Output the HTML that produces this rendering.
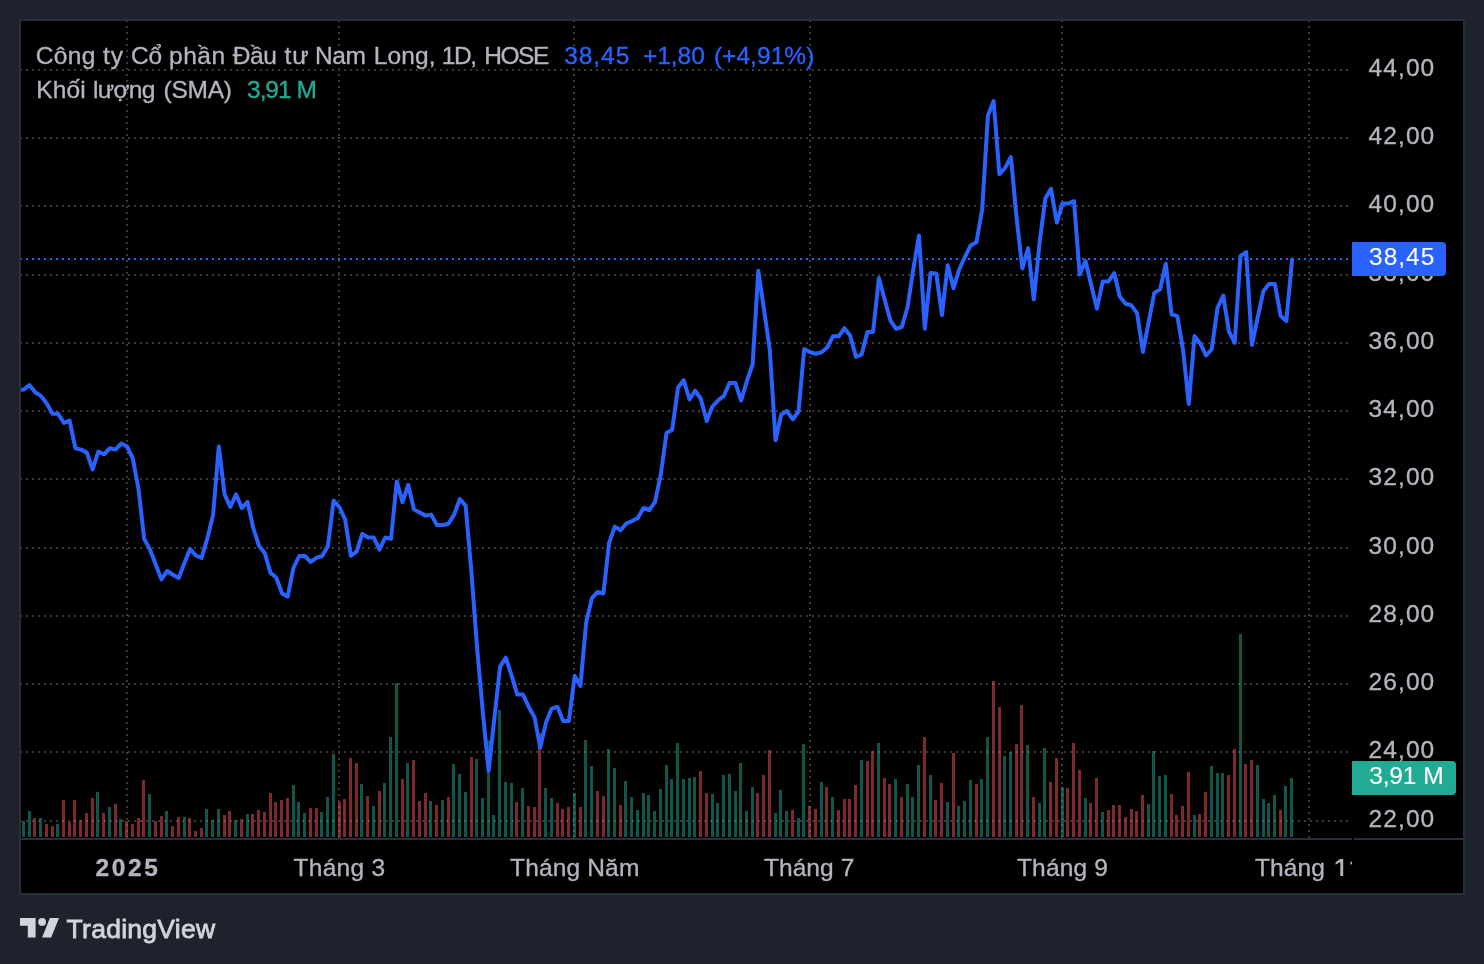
<!DOCTYPE html>
<html><head><meta charset="utf-8"><title>NLG chart</title>
<style>
html,body{margin:0;padding:0;background:#1e222d;}
body{width:1484px;height:964px;overflow:hidden;position:relative;font-family:"Liberation Sans",sans-serif;}
svg{position:absolute;left:0;top:0;display:block;will-change:transform;}
text{font-family:"Liberation Sans",sans-serif;}
</style></head><body>
<svg width="1484" height="964" viewBox="0 0 1484 964">
<rect x="0" y="0" width="1484" height="964" fill="#1e222d"/>
<rect x="20" y="20" width="1444" height="874" fill="#000" stroke="#2a2e39" stroke-width="2"/>
<defs><clipPath id="pane"><rect x="21" y="21" width="1331" height="817"/></clipPath>
<clipPath id="taxis"><rect x="21" y="840" width="1331" height="53"/></clipPath></defs>

<g  shape-rendering="crispEdges" stroke="#3a3a3a" stroke-width="2" stroke-dasharray="2 4" clip-path="url(#pane)">
<line x1="20" y1="70" x2="1352" y2="70"/>
<line x1="20" y1="138" x2="1352" y2="138"/>
<line x1="20" y1="206" x2="1352" y2="206"/>
<line x1="20" y1="275" x2="1352" y2="275"/>
<line x1="20" y1="343" x2="1352" y2="343"/>
<line x1="20" y1="411" x2="1352" y2="411"/>
<line x1="20" y1="479" x2="1352" y2="479"/>
<line x1="20" y1="548" x2="1352" y2="548"/>
<line x1="20" y1="616" x2="1352" y2="616"/>
<line x1="20" y1="684" x2="1352" y2="684"/>
<line x1="20" y1="752" x2="1352" y2="752"/>
<line x1="20" y1="821" x2="1352" y2="821"/>
<line x1="127" y1="20" x2="127" y2="838"/>
<line x1="339" y1="20" x2="339" y2="838"/>
<line x1="574" y1="20" x2="574" y2="838"/>
<line x1="810" y1="20" x2="810" y2="838"/>
<line x1="1062" y1="20" x2="1062" y2="838"/>
<line x1="1309" y1="20" x2="1309" y2="838"/>
</g>
<g shape-rendering="crispEdges">
<rect x="22" y="821" width="3" height="16" fill="rgba(34,171,148,0.5)"/>
<rect x="28" y="811" width="3" height="26" fill="rgba(34,171,148,0.5)"/>
<rect x="33" y="818" width="3" height="19" fill="rgba(247,82,95,0.5)"/>
<rect x="39" y="818" width="3" height="19" fill="rgba(34,171,148,0.5)"/>
<rect x="45" y="824" width="3" height="13" fill="rgba(247,82,95,0.5)"/>
<rect x="51" y="826" width="3" height="11" fill="rgba(247,82,95,0.5)"/>
<rect x="56" y="824" width="3" height="13" fill="rgba(34,171,148,0.5)"/>
<rect x="62" y="800" width="3" height="37" fill="rgba(247,82,95,0.5)"/>
<rect x="68" y="822" width="3" height="15" fill="rgba(247,82,95,0.5)"/>
<rect x="73" y="800" width="3" height="37" fill="rgba(247,82,95,0.5)"/>
<rect x="79" y="820" width="3" height="17" fill="rgba(247,82,95,0.5)"/>
<rect x="85" y="813" width="3" height="24" fill="rgba(247,82,95,0.5)"/>
<rect x="91" y="798" width="3" height="39" fill="rgba(247,82,95,0.5)"/>
<rect x="96" y="792" width="3" height="45" fill="rgba(34,171,148,0.5)"/>
<rect x="102" y="813" width="3" height="24" fill="rgba(247,82,95,0.5)"/>
<rect x="108" y="807" width="3" height="30" fill="rgba(34,171,148,0.5)"/>
<rect x="114" y="804" width="3" height="33" fill="rgba(247,82,95,0.5)"/>
<rect x="119" y="819" width="3" height="18" fill="rgba(34,171,148,0.5)"/>
<rect x="125" y="821" width="3" height="16" fill="rgba(247,82,95,0.5)"/>
<rect x="131" y="824" width="3" height="13" fill="rgba(247,82,95,0.5)"/>
<rect x="137" y="818" width="3" height="19" fill="rgba(247,82,95,0.5)"/>
<rect x="142" y="780" width="3" height="57" fill="rgba(247,82,95,0.5)"/>
<rect x="148" y="794" width="3" height="43" fill="rgba(34,171,148,0.5)"/>
<rect x="154" y="821" width="3" height="16" fill="rgba(247,82,95,0.5)"/>
<rect x="160" y="816" width="3" height="21" fill="rgba(247,82,95,0.5)"/>
<rect x="165" y="811" width="3" height="26" fill="rgba(34,171,148,0.5)"/>
<rect x="171" y="826" width="3" height="11" fill="rgba(247,82,95,0.5)"/>
<rect x="177" y="817" width="3" height="20" fill="rgba(247,82,95,0.5)"/>
<rect x="183" y="817" width="3" height="20" fill="rgba(34,171,148,0.5)"/>
<rect x="188" y="818" width="3" height="19" fill="rgba(247,82,95,0.5)"/>
<rect x="194" y="831" width="3" height="6" fill="rgba(247,82,95,0.5)"/>
<rect x="200" y="828" width="3" height="9" fill="rgba(247,82,95,0.5)"/>
<rect x="205" y="809" width="3" height="28" fill="rgba(34,171,148,0.5)"/>
<rect x="211" y="820" width="3" height="17" fill="rgba(34,171,148,0.5)"/>
<rect x="217" y="809" width="3" height="28" fill="rgba(34,171,148,0.5)"/>
<rect x="223" y="815" width="3" height="22" fill="rgba(247,82,95,0.5)"/>
<rect x="228" y="811" width="3" height="26" fill="rgba(247,82,95,0.5)"/>
<rect x="234" y="820" width="3" height="17" fill="rgba(34,171,148,0.5)"/>
<rect x="240" y="819" width="3" height="18" fill="rgba(247,82,95,0.5)"/>
<rect x="246" y="814" width="3" height="23" fill="rgba(34,171,148,0.5)"/>
<rect x="251" y="814" width="3" height="23" fill="rgba(247,82,95,0.5)"/>
<rect x="257" y="810" width="3" height="27" fill="rgba(247,82,95,0.5)"/>
<rect x="263" y="812" width="3" height="25" fill="rgba(247,82,95,0.5)"/>
<rect x="269" y="793" width="3" height="44" fill="rgba(247,82,95,0.5)"/>
<rect x="274" y="802" width="3" height="35" fill="rgba(247,82,95,0.5)"/>
<rect x="280" y="800" width="3" height="37" fill="rgba(247,82,95,0.5)"/>
<rect x="286" y="798" width="3" height="39" fill="rgba(247,82,95,0.5)"/>
<rect x="292" y="785" width="3" height="52" fill="rgba(34,171,148,0.5)"/>
<rect x="297" y="802" width="3" height="35" fill="rgba(34,171,148,0.5)"/>
<rect x="303" y="813" width="3" height="24" fill="rgba(34,171,148,0.5)"/>
<rect x="309" y="808" width="3" height="29" fill="rgba(247,82,95,0.5)"/>
<rect x="315" y="808" width="3" height="29" fill="rgba(247,82,95,0.5)"/>
<rect x="320" y="812" width="3" height="25" fill="rgba(34,171,148,0.5)"/>
<rect x="326" y="797" width="3" height="40" fill="rgba(34,171,148,0.5)"/>
<rect x="332" y="754" width="3" height="83" fill="rgba(34,171,148,0.5)"/>
<rect x="338" y="802" width="3" height="35" fill="rgba(247,82,95,0.5)"/>
<rect x="343" y="799" width="3" height="38" fill="rgba(247,82,95,0.5)"/>
<rect x="349" y="758" width="3" height="79" fill="rgba(247,82,95,0.5)"/>
<rect x="355" y="763" width="3" height="74" fill="rgba(247,82,95,0.5)"/>
<rect x="360" y="784" width="3" height="53" fill="rgba(34,171,148,0.5)"/>
<rect x="366" y="796" width="3" height="41" fill="rgba(247,82,95,0.5)"/>
<rect x="372" y="806" width="3" height="31" fill="rgba(34,171,148,0.5)"/>
<rect x="378" y="791" width="3" height="46" fill="rgba(247,82,95,0.5)"/>
<rect x="383" y="783" width="3" height="54" fill="rgba(34,171,148,0.5)"/>
<rect x="389" y="737" width="3" height="100" fill="rgba(34,171,148,0.5)"/>
<rect x="395" y="683" width="3" height="154" fill="rgba(34,171,148,0.5)"/>
<rect x="401" y="779" width="3" height="58" fill="rgba(247,82,95,0.5)"/>
<rect x="406" y="763" width="3" height="74" fill="rgba(34,171,148,0.5)"/>
<rect x="412" y="760" width="3" height="77" fill="rgba(247,82,95,0.5)"/>
<rect x="418" y="801" width="3" height="36" fill="rgba(247,82,95,0.5)"/>
<rect x="424" y="793" width="3" height="44" fill="rgba(247,82,95,0.5)"/>
<rect x="429" y="801" width="3" height="36" fill="rgba(34,171,148,0.5)"/>
<rect x="435" y="805" width="3" height="32" fill="rgba(247,82,95,0.5)"/>
<rect x="441" y="800" width="3" height="37" fill="rgba(34,171,148,0.5)"/>
<rect x="447" y="797" width="3" height="40" fill="rgba(247,82,95,0.5)"/>
<rect x="452" y="764" width="3" height="73" fill="rgba(34,171,148,0.5)"/>
<rect x="458" y="774" width="3" height="63" fill="rgba(34,171,148,0.5)"/>
<rect x="464" y="792" width="3" height="45" fill="rgba(34,171,148,0.5)"/>
<rect x="470" y="757" width="3" height="80" fill="rgba(247,82,95,0.5)"/>
<rect x="475" y="759" width="3" height="78" fill="rgba(34,171,148,0.5)"/>
<rect x="481" y="798" width="3" height="39" fill="rgba(34,171,148,0.5)"/>
<rect x="487" y="740" width="3" height="97" fill="rgba(34,171,148,0.5)"/>
<rect x="492" y="815" width="3" height="22" fill="rgba(34,171,148,0.5)"/>
<rect x="498" y="710" width="3" height="127" fill="rgba(34,171,148,0.5)"/>
<rect x="504" y="782" width="3" height="55" fill="rgba(34,171,148,0.5)"/>
<rect x="510" y="783" width="3" height="54" fill="rgba(34,171,148,0.5)"/>
<rect x="515" y="802" width="3" height="35" fill="rgba(247,82,95,0.5)"/>
<rect x="521" y="788" width="3" height="49" fill="rgba(34,171,148,0.5)"/>
<rect x="527" y="806" width="3" height="31" fill="rgba(247,82,95,0.5)"/>
<rect x="533" y="807" width="3" height="30" fill="rgba(247,82,95,0.5)"/>
<rect x="538" y="733" width="3" height="104" fill="rgba(247,82,95,0.5)"/>
<rect x="544" y="788" width="3" height="49" fill="rgba(34,171,148,0.5)"/>
<rect x="550" y="798" width="3" height="39" fill="rgba(34,171,148,0.5)"/>
<rect x="556" y="803" width="3" height="34" fill="rgba(247,82,95,0.5)"/>
<rect x="561" y="809" width="3" height="28" fill="rgba(247,82,95,0.5)"/>
<rect x="567" y="807" width="3" height="30" fill="rgba(247,82,95,0.5)"/>
<rect x="573" y="793" width="3" height="44" fill="rgba(34,171,148,0.5)"/>
<rect x="579" y="807" width="3" height="30" fill="rgba(247,82,95,0.5)"/>
<rect x="584" y="740" width="3" height="97" fill="rgba(34,171,148,0.5)"/>
<rect x="590" y="766" width="3" height="71" fill="rgba(34,171,148,0.5)"/>
<rect x="596" y="791" width="3" height="46" fill="rgba(247,82,95,0.5)"/>
<rect x="602" y="796" width="3" height="41" fill="rgba(247,82,95,0.5)"/>
<rect x="607" y="749" width="3" height="88" fill="rgba(34,171,148,0.5)"/>
<rect x="613" y="768" width="3" height="69" fill="rgba(34,171,148,0.5)"/>
<rect x="619" y="805" width="3" height="32" fill="rgba(247,82,95,0.5)"/>
<rect x="624" y="781" width="3" height="56" fill="rgba(34,171,148,0.5)"/>
<rect x="630" y="797" width="3" height="40" fill="rgba(34,171,148,0.5)"/>
<rect x="636" y="810" width="3" height="27" fill="rgba(34,171,148,0.5)"/>
<rect x="642" y="793" width="3" height="44" fill="rgba(34,171,148,0.5)"/>
<rect x="647" y="795" width="3" height="42" fill="rgba(34,171,148,0.5)"/>
<rect x="653" y="811" width="3" height="26" fill="rgba(34,171,148,0.5)"/>
<rect x="659" y="789" width="3" height="48" fill="rgba(34,171,148,0.5)"/>
<rect x="665" y="765" width="3" height="72" fill="rgba(34,171,148,0.5)"/>
<rect x="670" y="779" width="3" height="58" fill="rgba(34,171,148,0.5)"/>
<rect x="676" y="743" width="3" height="94" fill="rgba(34,171,148,0.5)"/>
<rect x="682" y="779" width="3" height="58" fill="rgba(34,171,148,0.5)"/>
<rect x="688" y="778" width="3" height="59" fill="rgba(34,171,148,0.5)"/>
<rect x="693" y="777" width="3" height="60" fill="rgba(34,171,148,0.5)"/>
<rect x="699" y="771" width="3" height="66" fill="rgba(247,82,95,0.5)"/>
<rect x="705" y="793" width="3" height="44" fill="rgba(247,82,95,0.5)"/>
<rect x="711" y="794" width="3" height="43" fill="rgba(34,171,148,0.5)"/>
<rect x="716" y="803" width="3" height="34" fill="rgba(34,171,148,0.5)"/>
<rect x="722" y="775" width="3" height="62" fill="rgba(34,171,148,0.5)"/>
<rect x="728" y="774" width="3" height="63" fill="rgba(34,171,148,0.5)"/>
<rect x="734" y="791" width="3" height="46" fill="rgba(34,171,148,0.5)"/>
<rect x="739" y="763" width="3" height="74" fill="rgba(34,171,148,0.5)"/>
<rect x="745" y="811" width="3" height="26" fill="rgba(34,171,148,0.5)"/>
<rect x="751" y="787" width="3" height="50" fill="rgba(34,171,148,0.5)"/>
<rect x="756" y="793" width="3" height="44" fill="rgba(247,82,95,0.5)"/>
<rect x="762" y="775" width="3" height="62" fill="rgba(247,82,95,0.5)"/>
<rect x="768" y="750" width="3" height="87" fill="rgba(247,82,95,0.5)"/>
<rect x="774" y="813" width="3" height="24" fill="rgba(34,171,148,0.5)"/>
<rect x="779" y="790" width="3" height="47" fill="rgba(34,171,148,0.5)"/>
<rect x="785" y="811" width="3" height="26" fill="rgba(34,171,148,0.5)"/>
<rect x="791" y="810" width="3" height="27" fill="rgba(247,82,95,0.5)"/>
<rect x="797" y="818" width="3" height="19" fill="rgba(34,171,148,0.5)"/>
<rect x="802" y="744" width="3" height="93" fill="rgba(34,171,148,0.5)"/>
<rect x="808" y="806" width="3" height="31" fill="rgba(247,82,95,0.5)"/>
<rect x="814" y="809" width="3" height="28" fill="rgba(247,82,95,0.5)"/>
<rect x="820" y="782" width="3" height="55" fill="rgba(34,171,148,0.5)"/>
<rect x="825" y="787" width="3" height="50" fill="rgba(247,82,95,0.5)"/>
<rect x="831" y="797" width="3" height="40" fill="rgba(34,171,148,0.5)"/>
<rect x="837" y="810" width="3" height="27" fill="rgba(247,82,95,0.5)"/>
<rect x="843" y="799" width="3" height="38" fill="rgba(247,82,95,0.5)"/>
<rect x="848" y="799" width="3" height="38" fill="rgba(247,82,95,0.5)"/>
<rect x="854" y="785" width="3" height="52" fill="rgba(247,82,95,0.5)"/>
<rect x="860" y="760" width="3" height="77" fill="rgba(34,171,148,0.5)"/>
<rect x="866" y="761" width="3" height="76" fill="rgba(247,82,95,0.5)"/>
<rect x="871" y="751" width="3" height="86" fill="rgba(247,82,95,0.5)"/>
<rect x="877" y="743" width="3" height="94" fill="rgba(34,171,148,0.5)"/>
<rect x="883" y="778" width="3" height="59" fill="rgba(247,82,95,0.5)"/>
<rect x="888" y="784" width="3" height="53" fill="rgba(247,82,95,0.5)"/>
<rect x="894" y="779" width="3" height="58" fill="rgba(34,171,148,0.5)"/>
<rect x="900" y="797" width="3" height="40" fill="rgba(247,82,95,0.5)"/>
<rect x="906" y="784" width="3" height="53" fill="rgba(34,171,148,0.5)"/>
<rect x="911" y="797" width="3" height="40" fill="rgba(34,171,148,0.5)"/>
<rect x="917" y="765" width="3" height="72" fill="rgba(34,171,148,0.5)"/>
<rect x="923" y="737" width="3" height="100" fill="rgba(247,82,95,0.5)"/>
<rect x="929" y="775" width="3" height="62" fill="rgba(34,171,148,0.5)"/>
<rect x="934" y="800" width="3" height="37" fill="rgba(247,82,95,0.5)"/>
<rect x="940" y="783" width="3" height="54" fill="rgba(247,82,95,0.5)"/>
<rect x="946" y="802" width="3" height="35" fill="rgba(34,171,148,0.5)"/>
<rect x="952" y="753" width="3" height="84" fill="rgba(247,82,95,0.5)"/>
<rect x="957" y="806" width="3" height="31" fill="rgba(34,171,148,0.5)"/>
<rect x="963" y="801" width="3" height="36" fill="rgba(34,171,148,0.5)"/>
<rect x="969" y="780" width="3" height="57" fill="rgba(34,171,148,0.5)"/>
<rect x="975" y="784" width="3" height="53" fill="rgba(247,82,95,0.5)"/>
<rect x="980" y="779" width="3" height="58" fill="rgba(34,171,148,0.5)"/>
<rect x="986" y="737" width="3" height="100" fill="rgba(34,171,148,0.5)"/>
<rect x="992" y="681" width="3" height="156" fill="rgba(247,82,95,0.5)"/>
<rect x="998" y="707" width="3" height="130" fill="rgba(247,82,95,0.5)"/>
<rect x="1003" y="756" width="3" height="81" fill="rgba(34,171,148,0.5)"/>
<rect x="1009" y="752" width="3" height="85" fill="rgba(34,171,148,0.5)"/>
<rect x="1015" y="744" width="3" height="93" fill="rgba(247,82,95,0.5)"/>
<rect x="1020" y="705" width="3" height="132" fill="rgba(247,82,95,0.5)"/>
<rect x="1026" y="745" width="3" height="92" fill="rgba(34,171,148,0.5)"/>
<rect x="1032" y="797" width="3" height="40" fill="rgba(247,82,95,0.5)"/>
<rect x="1038" y="803" width="3" height="34" fill="rgba(34,171,148,0.5)"/>
<rect x="1043" y="748" width="3" height="89" fill="rgba(34,171,148,0.5)"/>
<rect x="1049" y="782" width="3" height="55" fill="rgba(247,82,95,0.5)"/>
<rect x="1055" y="758" width="3" height="79" fill="rgba(247,82,95,0.5)"/>
<rect x="1061" y="787" width="3" height="50" fill="rgba(34,171,148,0.5)"/>
<rect x="1066" y="788" width="3" height="49" fill="rgba(247,82,95,0.5)"/>
<rect x="1072" y="743" width="3" height="94" fill="rgba(247,82,95,0.5)"/>
<rect x="1078" y="770" width="3" height="67" fill="rgba(247,82,95,0.5)"/>
<rect x="1084" y="798" width="3" height="39" fill="rgba(34,171,148,0.5)"/>
<rect x="1089" y="803" width="3" height="34" fill="rgba(247,82,95,0.5)"/>
<rect x="1095" y="778" width="3" height="59" fill="rgba(247,82,95,0.5)"/>
<rect x="1101" y="812" width="3" height="25" fill="rgba(34,171,148,0.5)"/>
<rect x="1107" y="810" width="3" height="27" fill="rgba(247,82,95,0.5)"/>
<rect x="1112" y="805" width="3" height="32" fill="rgba(247,82,95,0.5)"/>
<rect x="1118" y="805" width="3" height="32" fill="rgba(247,82,95,0.5)"/>
<rect x="1124" y="817" width="3" height="20" fill="rgba(247,82,95,0.5)"/>
<rect x="1130" y="809" width="3" height="28" fill="rgba(247,82,95,0.5)"/>
<rect x="1135" y="811" width="3" height="26" fill="rgba(247,82,95,0.5)"/>
<rect x="1141" y="795" width="3" height="42" fill="rgba(247,82,95,0.5)"/>
<rect x="1147" y="804" width="3" height="33" fill="rgba(34,171,148,0.5)"/>
<rect x="1152" y="751" width="3" height="86" fill="rgba(34,171,148,0.5)"/>
<rect x="1158" y="776" width="3" height="61" fill="rgba(34,171,148,0.5)"/>
<rect x="1164" y="775" width="3" height="62" fill="rgba(34,171,148,0.5)"/>
<rect x="1170" y="794" width="3" height="43" fill="rgba(247,82,95,0.5)"/>
<rect x="1175" y="815" width="3" height="22" fill="rgba(247,82,95,0.5)"/>
<rect x="1181" y="806" width="3" height="31" fill="rgba(247,82,95,0.5)"/>
<rect x="1187" y="772" width="3" height="65" fill="rgba(247,82,95,0.5)"/>
<rect x="1193" y="815" width="3" height="22" fill="rgba(34,171,148,0.5)"/>
<rect x="1198" y="814" width="3" height="23" fill="rgba(247,82,95,0.5)"/>
<rect x="1204" y="792" width="3" height="45" fill="rgba(247,82,95,0.5)"/>
<rect x="1210" y="766" width="3" height="71" fill="rgba(34,171,148,0.5)"/>
<rect x="1216" y="773" width="3" height="64" fill="rgba(34,171,148,0.5)"/>
<rect x="1221" y="773" width="3" height="64" fill="rgba(34,171,148,0.5)"/>
<rect x="1227" y="775" width="3" height="62" fill="rgba(247,82,95,0.5)"/>
<rect x="1233" y="749" width="3" height="88" fill="rgba(247,82,95,0.5)"/>
<rect x="1239" y="634" width="3" height="203" fill="rgba(34,171,148,0.5)"/>
<rect x="1244" y="764" width="3" height="73" fill="rgba(247,82,95,0.5)"/>
<rect x="1250" y="760" width="3" height="77" fill="rgba(247,82,95,0.5)"/>
<rect x="1256" y="765" width="3" height="72" fill="rgba(34,171,148,0.5)"/>
<rect x="1262" y="799" width="3" height="38" fill="rgba(34,171,148,0.5)"/>
<rect x="1267" y="803" width="3" height="34" fill="rgba(34,171,148,0.5)"/>
<rect x="1273" y="795" width="3" height="42" fill="rgba(34,171,148,0.5)"/>
<rect x="1279" y="810" width="3" height="27" fill="rgba(247,82,95,0.5)"/>
<rect x="1284" y="786" width="3" height="51" fill="rgba(34,171,148,0.5)"/>
<rect x="1290" y="778" width="3" height="59" fill="rgba(34,171,148,0.5)"/>
</g>
<line x1="20" y1="259" x2="1352" y2="259" stroke="#2962ff" stroke-width="2" stroke-dasharray="2 4" shape-rendering="crispEdges" clip-path="url(#pane)"/>
<polyline points="18.0,390.0 23.7,389.6 29.4,385.1 35.2,392.3 40.9,395.9 46.7,403.4 52.4,413.8 58.1,413.8 63.9,422.9 69.6,420.6 75.4,448.2 81.1,449.6 86.8,452.5 92.6,469.4 98.3,451.6 104.1,454.3 109.8,448.2 115.5,449.6 121.3,443.5 127.0,446.5 132.7,458.0 138.5,488.8 144.2,538.9 150.0,549.5 155.7,564.5 161.4,579.4 167.2,571.0 172.9,574.7 178.7,578.1 184.4,563.0 190.1,549.1 195.9,555.5 201.6,557.9 207.4,538.3 213.1,515.0 218.8,446.4 224.6,494.4 230.3,506.9 236.1,494.4 241.8,508.1 247.5,501.9 253.3,528.0 259.0,545.8 264.8,553.2 270.5,572.9 276.2,577.5 282.0,593.4 287.7,596.6 293.4,568.0 299.2,556.0 304.9,556.0 310.7,562.0 316.4,557.8 322.1,556.0 327.9,546.3 333.6,500.5 339.4,507.2 345.1,519.3 350.8,555.8 356.6,551.7 362.3,533.9 368.1,537.5 373.8,537.5 379.5,549.7 385.3,537.5 391.0,538.9 396.8,481.6 402.5,502.1 408.2,485.0 414.0,509.6 419.7,512.6 425.5,515.6 431.2,514.6 436.9,525.1 442.7,525.1 448.4,523.7 454.1,514.6 459.9,499.0 465.6,505.7 471.4,572.0 477.1,648.0 482.8,712.0 488.6,770.9 494.3,718.7 500.1,666.6 505.8,657.7 511.5,675.1 517.3,694.6 523.0,694.6 528.8,707.0 534.5,717.2 540.2,747.5 546.0,722.6 551.7,708.6 557.5,707.0 563.2,721.0 568.9,721.0 574.7,675.9 580.4,686.0 586.2,622.3 591.9,598.2 597.6,591.9 603.4,593.5 609.1,542.9 614.8,526.6 620.6,530.2 626.3,523.5 632.1,521.0 637.8,518.0 643.5,508.0 649.3,510.0 655.0,501.9 660.8,474.5 666.5,433.0 672.2,429.7 678.0,387.4 683.7,380.2 689.5,399.5 695.2,390.7 700.9,399.0 706.7,421.1 712.4,406.5 718.2,400.3 723.9,395.7 729.6,382.9 735.4,382.9 741.1,400.7 746.9,381.0 752.6,364.5 758.3,270.8 764.1,310.3 769.8,349.8 775.5,440.2 781.3,414.4 787.0,411.1 792.8,419.4 798.5,411.5 804.2,349.1 810.0,352.2 815.7,353.7 821.5,352.2 827.2,347.5 832.9,336.3 838.7,336.3 844.4,328.1 850.2,335.8 855.9,356.8 861.6,354.5 867.4,331.9 873.1,331.9 878.9,277.9 884.6,299.3 890.3,320.3 896.1,328.8 901.8,327.0 907.6,307.0 913.3,269.0 919.0,235.5 924.8,328.7 930.5,273.0 936.2,273.4 942.0,315.1 947.7,265.3 953.5,288.2 959.2,269.5 964.9,257.0 970.7,245.4 976.4,242.3 982.2,209.4 987.9,115.5 993.6,101.0 999.4,174.1 1005.1,167.9 1010.9,157.0 1016.6,218.0 1022.3,268.4 1028.1,248.2 1033.8,299.5 1039.6,242.6 1045.3,198.5 1051.0,188.8 1056.8,222.6 1062.5,203.5 1068.3,203.5 1074.0,201.2 1079.7,274.5 1085.5,261.0 1091.2,285.0 1096.9,308.6 1102.7,281.4 1108.4,281.4 1114.2,273.2 1119.9,296.8 1125.6,303.8 1131.4,305.3 1137.1,313.2 1142.9,352.0 1148.6,322.4 1154.3,292.9 1160.1,289.4 1165.8,263.8 1171.6,314.4 1177.3,316.2 1183.0,349.3 1188.8,404.0 1194.5,336.1 1200.3,343.6 1206.0,355.5 1211.7,349.3 1217.5,307.9 1223.2,295.6 1229.0,331.7 1234.7,342.8 1240.4,256.2 1246.2,252.0 1251.9,344.9 1257.6,318.0 1263.4,291.1 1269.1,284.1 1274.9,284.1 1280.6,315.8 1286.3,321.1 1292.1,259.4" fill="none" stroke="#2962ff" stroke-width="4" stroke-linejoin="round" stroke-linecap="round" clip-path="url(#pane)"/>
<g shape-rendering="crispEdges"><rect x="21" y="838" width="1331" height="2" fill="#2a2e39"/><rect x="1354" y="838" width="109" height="2" fill="#2a2e39"/></g>
<text x="1368.48" y="76.0" font-size="24.5" fill="#b2b5be" stroke="#b2b5be" stroke-width="0.35" textLength="65.78" lengthAdjust="spacing">44,00</text>
<text x="1368.48" y="144.0" font-size="24.5" fill="#b2b5be" stroke="#b2b5be" stroke-width="0.35" textLength="65.78" lengthAdjust="spacing">42,00</text>
<text x="1368.48" y="212.0" font-size="24.5" fill="#b2b5be" stroke="#b2b5be" stroke-width="0.35" textLength="65.78" lengthAdjust="spacing">40,00</text>
<text x="1368.48" y="281.0" font-size="24.5" fill="#b2b5be" stroke="#b2b5be" stroke-width="0.35" textLength="65.78" lengthAdjust="spacing">38,00</text>
<text x="1368.48" y="349.0" font-size="24.5" fill="#b2b5be" stroke="#b2b5be" stroke-width="0.35" textLength="65.78" lengthAdjust="spacing">36,00</text>
<text x="1368.48" y="417.0" font-size="24.5" fill="#b2b5be" stroke="#b2b5be" stroke-width="0.35" textLength="65.78" lengthAdjust="spacing">34,00</text>
<text x="1368.48" y="485.0" font-size="24.5" fill="#b2b5be" stroke="#b2b5be" stroke-width="0.35" textLength="65.78" lengthAdjust="spacing">32,00</text>
<text x="1368.48" y="554.0" font-size="24.5" fill="#b2b5be" stroke="#b2b5be" stroke-width="0.35" textLength="65.78" lengthAdjust="spacing">30,00</text>
<text x="1368.48" y="622.0" font-size="24.5" fill="#b2b5be" stroke="#b2b5be" stroke-width="0.35" textLength="65.78" lengthAdjust="spacing">28,00</text>
<text x="1368.48" y="690.0" font-size="24.5" fill="#b2b5be" stroke="#b2b5be" stroke-width="0.35" textLength="65.78" lengthAdjust="spacing">26,00</text>
<text x="1368.48" y="758.0" font-size="24.5" fill="#b2b5be" stroke="#b2b5be" stroke-width="0.35" textLength="65.78" lengthAdjust="spacing">24,00</text>
<text x="1368.48" y="827.0" font-size="24.5" fill="#b2b5be" stroke="#b2b5be" stroke-width="0.35" textLength="65.78" lengthAdjust="spacing">22,00</text>
<path d="M1352 242H1442a4 4 0 0 1 4 4V272a4 4 0 0 1 -4 4H1352Z" fill="#2962ff"/>
<text x="1369.09" y="265" font-size="24.5" fill="#fff" stroke="#fff" stroke-width="0.35" textLength="65.27" lengthAdjust="spacing" style="stroke-width:0.1">38,45</text>
<path d="M1352 761H1452a4 4 0 0 1 4 4V791a4 4 0 0 1 -4 4H1352Z" fill="#22ab94"/>
<text x="1369.26" y="784" font-size="24.5" fill="#fff" stroke="#fff" stroke-width="0.35" textLength="47.05" lengthAdjust="spacing" style="stroke-width:0.1">3,91</text>
<text x="1423.13" y="784" font-size="24.5" fill="#fff" stroke="#fff" stroke-width="0.35" style="stroke-width:0.1">M</text>
<g clip-path="url(#taxis)">
<text x="95.40" y="876" font-size="24.5" font-weight="bold" fill="#b2b5be" stroke="#b2b5be" stroke-width="0.35" textLength="62.49" lengthAdjust="spacing">2025</text>
<text x="293.56" y="876" font-size="24.5" fill="#b2b5be" stroke="#b2b5be" stroke-width="0.35" textLength="91.53" lengthAdjust="spacing">Tháng 3</text>
<text x="510.05" y="876" font-size="24.5" fill="#b2b5be" stroke="#b2b5be" stroke-width="0.35" textLength="129.25" lengthAdjust="spacing">Tháng Năm</text>
<text x="763.89" y="876" font-size="24.5" fill="#b2b5be" stroke="#b2b5be" stroke-width="0.35" textLength="90.43" lengthAdjust="spacing">Tháng 7</text>
<text x="1017.00" y="876" font-size="24.5" fill="#b2b5be" stroke="#b2b5be" stroke-width="0.35" textLength="90.92" lengthAdjust="spacing">Tháng 9</text>
<text x="1255.00" y="876" font-size="24.5" fill="#b2b5be" stroke="#b2b5be" stroke-width="0.35" textLength="69.98" lengthAdjust="spacing">Tháng</text>
<path fill="#b2b5be" d="M1335.6 862.2L1340.3 859H1343.2V876H1340.3V862L1335.6 864.8Z"/>
<path fill="#b2b5be" d="M1350.5 862.2L1355.2 859H1358.1V876H1355.2V862L1350.5 864.8Z"/>
</g>
<text x="35.72" y="64.2" font-size="24.5" fill="#b2b5be" stroke="#b2b5be" stroke-width="0.35" textLength="59.69" lengthAdjust="spacing">Công</text>
<text x="103.12" y="64.2" font-size="24.5" fill="#b2b5be" stroke="#b2b5be" stroke-width="0.35" textLength="19.80" lengthAdjust="spacing">ty</text>
<text x="130.98" y="64.2" font-size="24.5" fill="#b2b5be" stroke="#b2b5be" stroke-width="0.35" textLength="31.18" lengthAdjust="spacing">Cổ</text>
<text x="169.11" y="64.2" font-size="24.5" fill="#b2b5be" stroke="#b2b5be" stroke-width="0.35" textLength="55.95" lengthAdjust="spacing">phần</text>
<text x="232.77" y="64.2" font-size="24.5" fill="#b2b5be" stroke="#b2b5be" stroke-width="0.35" textLength="44.23" lengthAdjust="spacing">Đầu</text>
<text x="284.57" y="64.2" font-size="24.5" fill="#b2b5be" stroke="#b2b5be" stroke-width="0.35" textLength="23.99" lengthAdjust="spacing">tư</text>
<text x="314.98" y="64.2" font-size="24.5" fill="#b2b5be" stroke="#b2b5be" stroke-width="0.35" textLength="50.88" lengthAdjust="spacing">Nam</text>
<text x="373.71" y="64.2" font-size="24.5" fill="#b2b5be" stroke="#b2b5be" stroke-width="0.35" textLength="61.92" lengthAdjust="spacing">Long,</text>
<text x="441.85" y="64.2" font-size="24.5" fill="#b2b5be" stroke="#b2b5be" stroke-width="0.35" textLength="35.32" lengthAdjust="spacing">1D,</text>
<text x="484.13" y="64.2" font-size="24.5" fill="#b2b5be" stroke="#b2b5be" stroke-width="0.35" textLength="65.17" lengthAdjust="spacing">HOSE</text>
<text x="564.13" y="64.2" font-size="24.5" fill="#2962ff" stroke="#2962ff" stroke-width="0.35" textLength="65.23" lengthAdjust="spacing">38,45</text>
<text x="642.91" y="64.2" font-size="24.5" fill="#2962ff" stroke="#2962ff" stroke-width="0.35" textLength="61.87" lengthAdjust="spacing">+1,80</text>
<text x="713.88" y="64.2" font-size="24.5" fill="#2962ff" stroke="#2962ff" stroke-width="0.35" textLength="100.44" lengthAdjust="spacing">(+4,91%)</text>
<text x="36.13" y="98" font-size="24.5" fill="#b2b5be" stroke="#b2b5be" stroke-width="0.35" textLength="49.55" lengthAdjust="spacing">Khối</text>
<text x="93.12" y="98" font-size="24.5" fill="#b2b5be" stroke="#b2b5be" stroke-width="0.35" textLength="62.15" lengthAdjust="spacing">lượng</text>
<text x="163.51" y="98" font-size="24.5" fill="#b2b5be" stroke="#b2b5be" stroke-width="0.35" textLength="68.53" lengthAdjust="spacing">(SMA)</text>
<text x="247.09" y="98" font-size="24.5" fill="#22ab94" stroke="#22ab94" stroke-width="0.35" textLength="44.44" lengthAdjust="spacing">3,91</text>
<text x="296.42" y="98" font-size="24.5" fill="#22ab94" stroke="#22ab94" stroke-width="0.35">M</text>
<svg x="20" y="918" width="39" height="19.5" viewBox="2 6 30 15"><path fill="#d1d4dc" d="M14 6H2v6h6v9h6V6zm12 15h-7l6-15h7l-6 15zm-7-9a3 3 0 1 0 0-6 3 3 0 0 0 0 6z"/></svg>
<text x="66.61" y="937.6" font-size="26.5" fill="#d1d4dc" stroke="#d1d4dc" stroke-width="0.35" textLength="148.45" lengthAdjust="spacing" style="stroke-width:0.8">TradingView</text>
</svg></body></html>
